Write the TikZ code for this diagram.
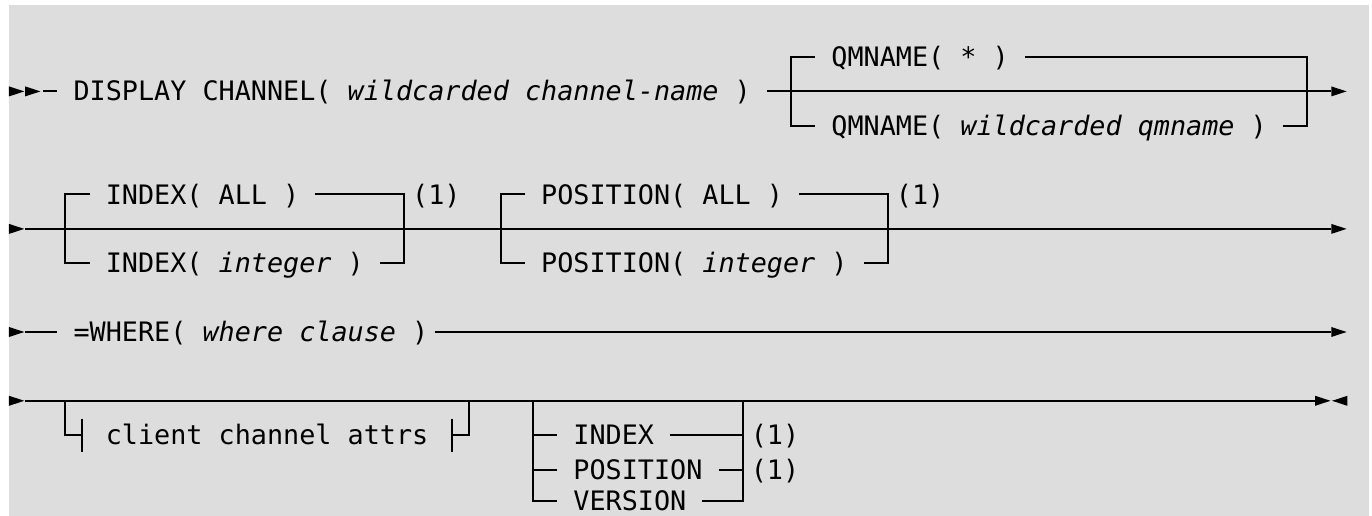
\documentclass[tikz,border=0pt]{standalone}
\usepackage{fontspec}
\newfontfamily\monofam{DejaVu Sans Mono}[ItalicFont={DejaVu Sans Mono Oblique}]
\definecolor{bgray}{RGB}{221,221,221}
\def\rA{57}\def\rB{91.4}\def\rC{125.8}
\def\rD{194.5}\def\rE{228.9}\def\rF{263.3}
\def\rG{332}
\def\rH{400.8}\def\rI{435.2}\def\rJ{469.6}\def\rK{501}
\def\bl{9.6}
\begin{document}
\begin{tikzpicture}[x=12.094pt,y=-0.75pt,
  rail/.style={line width=1.5pt, line cap=butt, line join=miter},
  tipfill/.style={fill=black},
  txt/.style={anchor=base west, inner sep=0pt, outer sep=0pt,
    font=\monofam\fontsize{20.09pt}{24pt}\selectfont},
  var/.style={txt, font=\monofam\itshape\fontsize{20.09pt}{24pt}\selectfont}]
\useasboundingbox (-0.5581,0) rectangle (84.527,516);
\fill[white] (-0.5581,0) rectangle (84.527,516);
\fill[bgray] (0,5) rectangle (84.341,516);

% ---------- row 1 ----------
\fill[tipfill] (0,\rB-5) -- (0,\rB+5) -- (0.95,\rB) -- cycle;
\fill[tipfill] (1,\rB-5) -- (1,\rB+5) -- (1.95,\rB) -- cycle;
\coordinate (s1a) at (2.1,\rB); \coordinate (s1b) at (3,\rB);
\draw[rail] (s1a) -- (s1b);
\node[txt] (disp) at (4,\rB+\bl) {DISPLAY CHANNEL(};
\node[var] (chn) at (21,\rB+\bl) {wildcarded channel-name};
\node[txt] (cp1) at (45,\rB+\bl) {)};
\coordinate (m1a) at (47,\rB); \coordinate (m1b) at (82,\rB);
\draw[rail] (m1a) -- (m1b);
\fill[tipfill] (82,\rB-5) -- (82,\rB+5) -- (82.95,\rB) -- cycle;
\draw[rail] (50,\rA) -- (48.5,\rA) -- (48.5,\rC) -- (50,\rC);
\node[txt] (qm1) at (51,\rA+\bl) {QMNAME( * )};
\draw[rail] (63,\rA) -- (80.5,\rA) -- (80.5,\rC) -- (79,\rC);
\node[txt] (qm2a) at (51,\rC+\bl) {QMNAME(};
\node[var] (qm2b) at (59,\rC+\bl) {wildcarded qmname};
\node[txt] (qm2c) at (77,\rC+\bl) {)};

% ---------- row 2 ----------
\fill[tipfill] (0,\rE-5) -- (0,\rE+5) -- (0.95,\rE) -- cycle;
\draw[rail] (1,\rE) -- (82,\rE);
\fill[tipfill] (82,\rE-5) -- (82,\rE+5) -- (82.95,\rE) -- cycle;
\draw[rail] (5,\rD) -- (3.5,\rD) -- (3.5,\rF) -- (5,\rF);
\node[txt] (ix1) at (6,\rD+\bl) {INDEX( ALL )};
\draw[rail] (19,\rD) -- (24.5,\rD) -- (24.5,\rF) -- (23,\rF);
\node[txt] (n1a) at (25,\rD+\bl) {(1)};
\node[txt] (ix2a) at (6,\rF+\bl) {INDEX(};
\node[var] (ix2b) at (13,\rF+\bl) {integer};
\node[txt] (ix2c) at (21,\rF+\bl) {)};
\draw[rail] (32,\rD) -- (30.5,\rD) -- (30.5,\rF) -- (32,\rF);
\node[txt] (ps1) at (33,\rD+\bl) {POSITION( ALL )};
\draw[rail] (49,\rD) -- (54.5,\rD) -- (54.5,\rF) -- (53,\rF);
\node[txt] (n1b) at (55,\rD+\bl) {(1)};
\node[txt] (ps2a) at (33,\rF+\bl) {POSITION(};
\node[var] (ps2b) at (43,\rF+\bl) {integer};
\node[txt] (ps2c) at (51,\rF+\bl) {)};

% ---------- row 3 ----------
\fill[tipfill] (0,\rG-5) -- (0,\rG+5) -- (0.95,\rG) -- cycle;
\draw[rail] (1,\rG) -- (3,\rG);
\node[txt] (wh1) at (4,\rG+\bl) {=WHERE(};
\node[var] (wh2) at (12,\rG+\bl) {where clause};
\node[txt] (wh3) at (25,\rG+\bl) {)};
\draw[rail] (26.4,\rG) -- (82,\rG);
\fill[tipfill] (82,\rG-5) -- (82,\rG+5) -- (82.95,\rG) -- cycle;

% ---------- row 4 ----------
\fill[tipfill] (0,\rH-5) -- (0,\rH+5) -- (0.95,\rH) -- cycle;
\draw[rail] (1,\rH) -- (81,\rH);
\fill[tipfill] (81,\rH-5) -- (81,\rH+5) -- (81.95,\rH) -- cycle;
\fill[tipfill] (83,\rH-5) -- (83,\rH+5) -- (82.05,\rH) -- cycle;
\draw[rail] (3.5,\rH) -- (3.5,\rI) -- (4.5,\rI);
\draw[rail] (4.5,\rI-16.5) -- (4.5,\rI+16.5);
\node[txt] (cca) at (6,\rI+\bl) {client channel attrs};
\draw[rail] (27.5,\rI-16.5) -- (27.5,\rI+16.5);
\draw[rail] (27.5,\rI) -- (28.5,\rI) -- (28.5,\rH);
\draw[rail] (32.5,\rH) -- (32.5,\rK) -- (34,\rK);
\draw[rail] (32.5,\rI) -- (34,\rI);
\draw[rail] (32.5,\rJ) -- (34,\rJ);
\node[txt] (o1) at (35,\rI+\bl) {INDEX};
\draw[rail] (41,\rI) -- (45.5,\rI);
\node[txt] (n1c) at (46,\rI+\bl) {(1)};
\node[txt] (o2) at (35,\rJ+\bl) {POSITION};
\draw[rail] (44,\rJ) -- (45.5,\rJ);
\node[txt] (n1d) at (46,\rJ+\bl) {(1)};
\node[txt] (o3) at (35,\rK+\bl) {VERSION};
\draw[rail] (43,\rK) -- (45.5,\rK) -- (45.5,\rH);
\end{tikzpicture}
\end{document}
